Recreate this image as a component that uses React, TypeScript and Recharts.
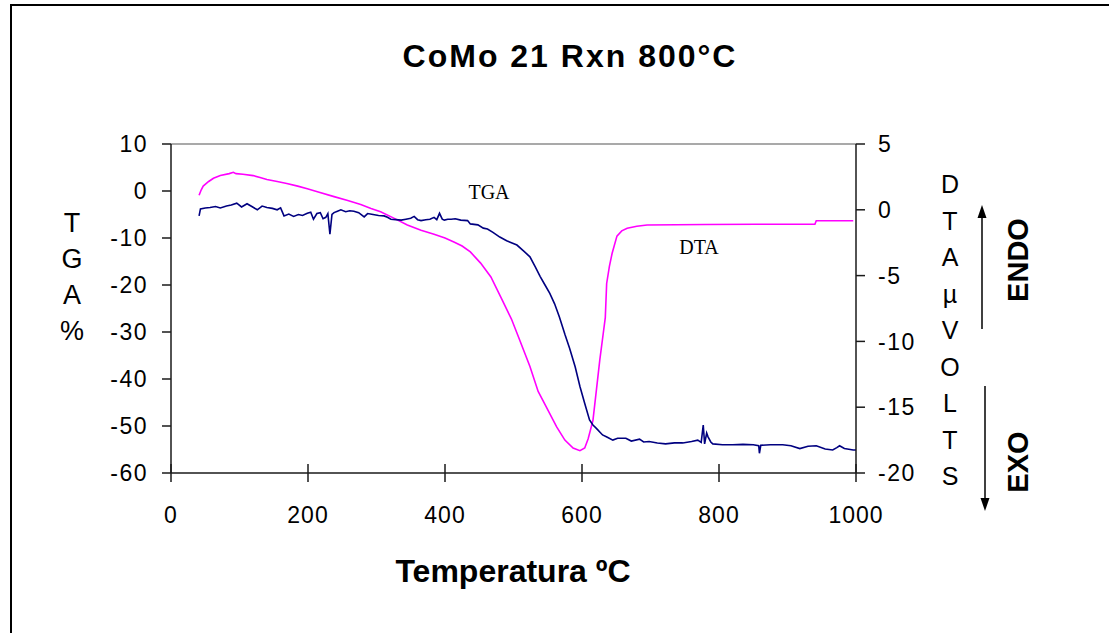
import React from 'react';
import { ComposedChart, Line, XAxis, YAxis, ReferenceLine } from 'recharts';

// TGA (%)
const tgaTemps = [41, 43, 50, 57, 65, 72, 81, 88, 96, 103, 111, 118, 126, 133, 140, 148, 155, 160, 165, 172, 179, 186, 192, 199, 204, 208, 213, 218, 222, 226, 229, 232, 235, 238, 243, 248, 255, 261, 267, 274, 282, 287, 295, 303, 311, 316, 321, 328, 336, 343, 350, 355, 360, 365, 372, 378, 384, 388, 392, 396, 399, 404, 409, 415, 423, 433, 437, 448, 456, 462, 470, 480, 490, 505, 515, 524, 532, 539, 546, 553, 560, 567, 575, 582, 590, 597, 604, 611, 616, 621, 630, 637, 645, 652, 664, 672, 684, 690, 698, 710, 722, 735, 747, 760, 769, 774, 777, 779, 782, 784, 788, 791, 805, 820, 835, 850, 858, 859, 861, 875, 893, 905, 918, 930, 942, 955, 966, 972, 976, 983, 996, 1000];
const tgaValues = [-5.3, -3.8, -3.6, -3.5, -3.3, -3.6, -3.2, -3.0, -2.6, -3.4, -2.7, -3.3, -4.0, -3.2, -3.5, -3.7, -4.0, -3.6, -5.3, -4.9, -5.4, -5.0, -5.2, -4.75, -4.5, -6.0, -4.8, -4.6, -5.9, -5.6, -4.8, -9.2, -5.0, -4.6, -4.3, -4.0, -4.4, -4.2, -4.3, -4.6, -5.5, -4.8, -5.0, -5.2, -5.3, -5.6, -6.0, -6.1, -6.2, -6.0, -5.8, -5.4, -6.1, -6.3, -6.1, -6.0, -5.6, -6.1, -4.75, -6.0, -6.2, -6.0, -6.0, -5.9, -6.2, -6.3, -7.0, -7.2, -7.9, -8.1, -8.8, -9.8, -10.6, -11.5, -12.8, -14.0, -16.2, -18.2, -20.0, -21.8, -24.0, -26.8, -30.5, -33.5, -37.4, -41.6, -45.2, -48.7, -49.8, -50.5, -51.9, -52.4, -53.0, -52.6, -52.6, -53.2, -52.8, -53.4, -53.3, -53.6, -53.8, -53.6, -53.6, -53.3, -53.0, -53.5, -49.8, -53.8, -51.5, -52.3, -53.4, -53.8, -54.0, -54.0, -53.9, -54.0, -54.2, -55.8, -54.1, -54.0, -54.0, -54.2, -54.8, -54.3, -54.2, -54.9, -55.1, -54.6, -54.2, -54.8, -55.1, -55.1];

// DTA (µV)
const dtaTemps = [41, 44, 47, 55, 62, 72, 85, 91, 95, 105, 120, 130, 140, 155, 169, 185, 199, 215, 238, 258, 277, 292, 306, 326, 345, 365, 384, 400, 413, 425, 437, 452, 467, 482, 497, 509, 524, 536, 548, 563, 575, 587, 597, 604, 609, 616, 621, 626, 631, 634, 636, 640, 644, 651, 658, 666, 680, 695, 780, 855, 940, 942, 996];
const dtaValues = [1.1, 1.5, 1.8, 2.15, 2.4, 2.6, 2.75, 2.85, 2.75, 2.7, 2.6, 2.45, 2.3, 2.15, 2.0, 1.8, 1.6, 1.35, 1.0, 0.7, 0.4, 0.1, -0.15, -0.65, -1.15, -1.55, -1.85, -2.15, -2.45, -2.75, -3.2, -4.05, -5.1, -6.7, -8.3, -9.9, -11.9, -13.8, -15.0, -16.5, -17.5, -18.1, -18.3, -18.1, -17.4, -16.0, -13.7, -11.4, -9.4, -8.2, -5.6, -4.3, -3.3, -2.0, -1.6, -1.4, -1.25, -1.15, -1.12, -1.1, -1.1, -0.83, -0.83];

const xTicks = [0, 200, 400, 600, 800, 1000];
const tgaTicks = [10, 0, -10, -20, -30, -40, -50, -60];
const dtaTicks = [5, 0, -5, -10, -15, -20];

const leftLetters = ['T', 'G', 'A', '%'];
const rightLetters = ['D', 'T', 'A', 'µ', 'V', 'O', 'L', 'T', 'S'];

const tgaData = tgaTemps.map((t, i) => ({ t, tga: tgaValues[i] }));
const dtaData = dtaTemps.map((t, i) => ({ t, dta: dtaValues[i] }));

const SANS = "'Liberation Sans', Arial, sans-serif";
const SERIF = "'Liberation Serif', 'Times New Roman', serif";
const AXIS = '#1a1a1a';

const XTick = (props: any) => {
  const { x, y, payload } = props;
  const axisY = y - 9;
  return (
    <g>
      <line x1={x} x2={x} y1={axisY - 9} y2={axisY + 9} stroke={AXIS} strokeWidth={1.5} />
      <text x={x} y={axisY + 50} textAnchor="middle" fontSize={23} fontFamily={SANS} fill="#000" letterSpacing={1}>
        {payload.value}
      </text>
    </g>
  );
};

export default function App() {
  return (
    <div style={{ position: 'absolute', left: 0, top: 0, width: 1109, height: 633, background: '#fff' }}>
      <ComposedChart width={1109} height={633} margin={{ top: 144, right: 193, bottom: 100, left: 111 }}>
        <XAxis
          xAxisId="x"
          dataKey="t"
          type="number"
          domain={[0, 1000]}
          ticks={xTicks}
          allowDataOverflow
          height={60}
          tickSize={9}
          tickMargin={0}
          tickLine={false}
          axisLine={{ stroke: AXIS, strokeWidth: 1.5 }}
          tick={<XTick />}
        />
        <YAxis
          yAxisId="left"
          orientation="left"
          type="number"
          domain={[-60, 10]}
          ticks={tgaTicks}
          width={60}
          tickSize={9}
          tickMargin={14}
          axisLine={{ stroke: AXIS, strokeWidth: 1.5 }}
          tickLine={{ stroke: AXIS, strokeWidth: 1.5 }}
          tick={{ fontSize: 23, fill: '#000', fontFamily: SANS, letterSpacing: 1.5 }}
        />
        <YAxis
          yAxisId="right"
          orientation="right"
          type="number"
          domain={[-20, 5]}
          ticks={dtaTicks}
          width={60}
          tickSize={9}
          tickMargin={13}
          axisLine={{ stroke: AXIS, strokeWidth: 1.5 }}
          tickLine={{ stroke: AXIS, strokeWidth: 1.5 }}
          tick={{ fontSize: 23, fill: '#000', fontFamily: SANS, letterSpacing: 1.5, textAnchor: 'start' }}
        />
        <ReferenceLine xAxisId="x" yAxisId="left" y={10} stroke="#8c8c8c" strokeWidth={1.5} />
        <Line
          xAxisId="x"
          yAxisId="right"
          data={dtaData}
          dataKey="dta"
          type="linear"
          stroke="#ff00ff"
          strokeWidth={1.6}
          dot={false}
          isAnimationActive={false}
        />
        <Line
          xAxisId="x"
          yAxisId="left"
          data={tgaData}
          dataKey="tga"
          type="linear"
          stroke="#000080"
          strokeWidth={1.6}
          dot={false}
          isAnimationActive={false}
        />
      </ComposedChart>
      <svg
        width={1109}
        height={633}
        style={{ position: 'absolute', left: 0, top: 0, pointerEvents: 'none' }}
      >
        <line x1={10} x2={1109} y1={5} y2={5} stroke="#000" strokeWidth={2} />
        <line x1={11} x2={11} y1={4} y2={633} stroke="#000" strokeWidth={2} />
        <text x={570} y={67} textAnchor="middle" fontSize={32} fontWeight="bold" fontFamily={SANS} letterSpacing={2} fill="#000">
          CoMo 21 Rxn 800°C
        </text>
        <text x={513} y={582} textAnchor="middle" fontSize={32} fontWeight="bold" fontFamily={SANS} fill="#000">
          Temperatura ºC
        </text>
        {leftLetters.map((c, i) => (
          <text key={'l' + i} x={72} y={232 + 36 * i} textAnchor="middle" fontSize={27} fontFamily={SANS} fill="#000">
            {c}
          </text>
        ))}
        {rightLetters.map((c, i) => (
          <text key={'r' + i} x={950} y={193 + 36.5 * i} textAnchor="middle" fontSize={25} fontFamily={SANS} fill="#000">
            {c}
          </text>
        ))}
        <line x1={982} x2={982} y1={329} y2={214} stroke="#000" strokeWidth={1.5} />
        <polygon points="982,205 977.5,218 986.5,218" fill="#000" />
        <line x1={985} x2={985} y1={386} y2={502} stroke="#000" strokeWidth={1.5} />
        <polygon points="985,511 980.5,498 989.5,498" fill="#000" />
        <text x={1028} y={260} transform="rotate(-90 1028 260)" textAnchor="middle" fontSize={29} fontWeight="bold" fontFamily={SANS} fill="#000">
          ENDO
        </text>
        <text x={1028} y={462} transform="rotate(-90 1028 462)" textAnchor="middle" fontSize={29} fontWeight="bold" fontFamily={SANS} fill="#000">
          EXO
        </text>
        <text x={489} y={199} textAnchor="middle" fontSize={20} fontFamily={SERIF} fill="#000">
          TGA
        </text>
        <text x={699} y={254} textAnchor="middle" fontSize={20} fontFamily={SERIF} fill="#000">
          DTA
        </text>
      </svg>
    </div>
  );
}
